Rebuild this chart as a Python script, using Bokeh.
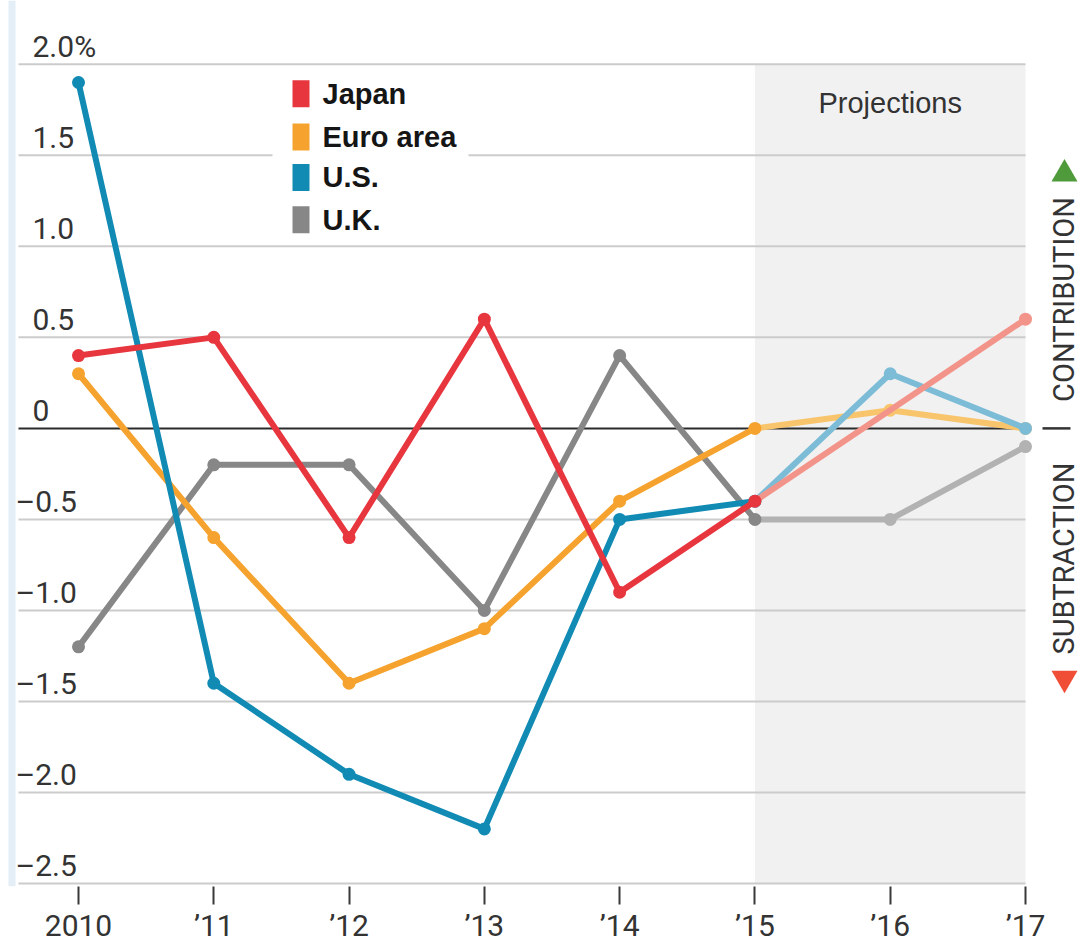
import math
from bokeh.plotting import figure
from bokeh.models import FixedTicker
from bokeh.core.properties import value
from bokeh.embed import file_html
from bokeh.resources import INLINE

# ---------------- data ----------------
years = [2010, 2011, 2012, 2013, 2014, 2015, 2016, 2017]
year_labels = ["2010", "\u201911", "\u201912", "\u201913", "\u201914", "\u201915", "\u201916", "\u201917"]
proj_start = 2015
japan = [0.4, 0.5, -0.6, 0.6, -0.9, -0.4, None, 0.6]
euro = [0.3, -0.6, -1.4, -1.1, -0.4, 0.0, 0.1, 0.0]
us = [1.9, -1.4, -1.9, -2.2, -0.5, -0.4, 0.3, 0.0]
uk = [-1.2, -0.2, -0.2, -1.0, 0.4, -0.5, -0.5, -0.1]
series_names = ["Japan", "Euro area", "U.S.", "U.K."]
y_ticks = [2.0, 1.5, 1.0, 0.5, 0.0, -0.5, -1.0, -1.5, -2.0, -2.5]
y_labels = ["2.0%", "1.5", "1.0", "0.5", "0", "\u20130.5", "\u20131.0", "\u20131.5", "\u20132.0", "\u20132.5"]

# ---------------- styling / layout ----------------
dark = {"Japan": "#e8363f", "Euro area": "#f5a32e", "U.S.": "#118bb4", "U.K.": "#878787"}
light = {"Japan": "#f3948b", "Euro area": "#f8c46c", "U.S.": "#7dbcd6", "U.K.": "#b2b2b2"}
NARROW = "Roboto"
SANS = "Liberation Sans"
TXT = "#333333"

W, H = 1081, 945
FRAME_H = 889
PXX = (1025 - 78) / (years[-1] - years[0])
PXY = (886 - 64) / (y_ticks[0] - y_ticks[-1])
x_start = years[0] - 78 / PXX
x_end = x_start + W / PXX
y_end = y_ticks[0] + 64 / PXY
y_start = y_end - FRAME_H / PXY


def sx(px):
    return x_start + px / PXX


def sy(py):
    return y_end - py / PXY


p = figure(width=W, height=H, output_backend="svg", toolbar_location=None,
           x_range=(x_start, x_end), y_range=(y_start, y_end),
           y_axis_location=None, min_border_left=0, min_border_right=0,
           min_border_top=0, min_border_bottom=0)
p.outline_line_color = None
p.xgrid.visible = False
p.ygrid.visible = False
p.background_fill_color = "white"
p.border_fill_color = "white"

# bottom axis
ax = p.xaxis[0]
ax.ticker = FixedTicker(ticks=years)
ax.major_label_overrides = {y: l for y, l in zip(years, year_labels)}
ax.axis_line_color = None
ax.major_tick_in = 0
ax.major_tick_out = 18
ax.major_tick_line_width = 2
ax.major_tick_line_color = "#3a3a3a"
ax.minor_tick_line_color = None
ax.major_label_standoff = 3
ax.major_label_text_font = NARROW
ax.major_label_text_font_size = "30px"
ax.major_label_text_color = TXT

# left light band
p.quad(left=sx(8), right=sx(15), bottom=y_start, top=y_end,
       fill_color="#e4eef7", line_color=None)

# projections shading
p.quad(left=proj_start, right=years[-1], bottom=y_ticks[-1], top=y_ticks[0],
       fill_color="#f1f1f1", line_color=None)
p.text(x=[(proj_start + years[-1]) / 2], y=[sy(103)], text=["Projections"],
       text_font=value(SANS), text_font_size="29px", text_color=TXT,
       text_align="center", text_baseline="middle")

# gridlines
grid_left = sx(18)
gy = [t for t in y_ticks if t != 0]
p.segment(x0=grid_left, x1=years[-1], y0=gy, y1=gy, line_color="#cccccc", line_width=2)
p.segment(x0=[grid_left], x1=[years[-1]], y0=[0], y1=[0], line_color="#2b2b2b", line_width=2)

# y tick labels (sit above their gridline)
label_lift = 18 / PXY
offs = [-17 if l.startswith("\u2013") else 0 for l in y_labels]
p.text(x=[sx(32)] * len(y_ticks), y=[t + label_lift for t in y_ticks], text=y_labels,
       x_offset=offs, text_font=value(NARROW), text_font_size="30px", text_color=TXT,
       text_align="left", text_baseline="alphabetic")

# legend
p.quad(left=sx(272), right=sx(468), bottom=sy(242), top=sy(68),
       fill_color="white", line_color=None)
leg_y = [sy(93.5), sy(137), sy(177.5), sy(220)]
p.rect(x=[sx(300.5)] * 4, y=leg_y, width=17, height=27, width_units="screen",
       height_units="screen", fill_color=[dark[n] for n in series_names], line_color=None)
p.text(x=[sx(322)] * 4, y=leg_y, text=series_names, text_font=value(SANS),
       text_font_size="29px", text_font_style="bold", text_color="#151515",
       text_align="left", text_baseline="middle")

# series lines
data = {"Japan": japan, "Euro area": euro, "U.S.": us, "U.K.": uk}
for name in ["U.K.", "Euro area", "U.S.", "Japan"]:
    vals = data[name]
    hx = [x for x, v in zip(years, vals) if x <= proj_start and v is not None]
    hy = [v for x, v in zip(years, vals) if x <= proj_start and v is not None]
    px_ = [x for x, v in zip(years, vals) if x >= proj_start and v is not None]
    py_ = [v for x, v in zip(years, vals) if x >= proj_start and v is not None]
    p.line(px_, py_, line_color=light[name], line_width=6, line_join="round")
    p.scatter(px_[1:], py_[1:], size=13, fill_color=light[name], line_color=None)
    p.line(hx, hy, line_color=dark[name], line_width=6, line_join="round")
    p.scatter(hx, hy, size=13, fill_color=dark[name], line_color=None)

# right-hand annotation
p.text(x=[sx(1063)], y=[sy(300)], text=["CONTRIBUTION"], angle=math.pi / 2,
       text_font=value(NARROW), text_font_size="29px", text_color=TXT,
       text_align="center", text_baseline="middle")
p.text(x=[sx(1063)], y=[sy(560)], text=["SUBTRACTION"], angle=math.pi / 2,
       text_font=value(NARROW), text_font_size="29px", text_color=TXT,
       text_align="center", text_baseline="middle")
p.rect(x=[sx(1056)], y=[0], width=28, height=2.5, width_units="screen",
       height_units="screen", fill_color="#333333", line_color=None)
p.scatter(x=[sx(1064)], y=[sy(174)], marker="triangle", size=26,
          fill_color="#4f9a3a", line_color=None)
p.scatter(x=[sx(1064)], y=[sy(680)], marker="inverted_triangle", size=26,
          fill_color="#f04e37", line_color=None)

open("out.html", "w").write(file_html(p, INLINE))
